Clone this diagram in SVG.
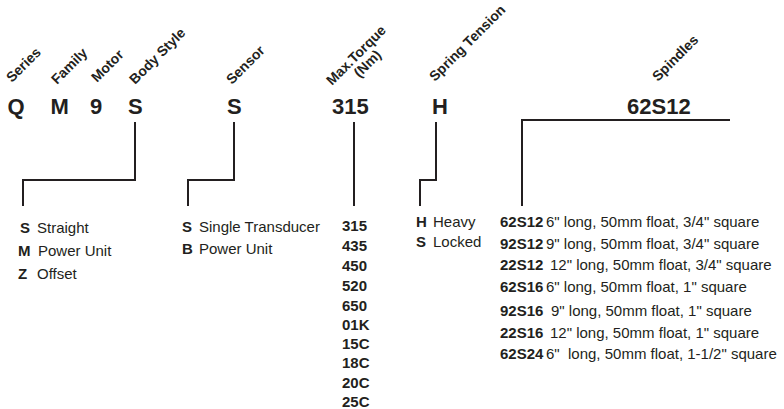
<svg xmlns="http://www.w3.org/2000/svg" width="784" height="409" viewBox="0 0 784 409">
<style>
text{font-family:"Liberation Sans",Arial,sans-serif;fill:#231f20}
.code{font-size:22px;font-weight:bold}
.lbl{font-size:14px;font-weight:bold}
.k{font-size:15px;font-weight:bold}
.d{font-size:15px}
.ln{fill:none;stroke:#231f20;stroke-width:2}
</style>
<rect width="784" height="409" fill="#ffffff"/>
<g id="connectors">
<polyline class="ln" points="135,122 135,180 23,180 23,206"/>
<polyline class="ln" points="234,122 234,180 188,180 188,206"/>
<polyline class="ln" points="354,122 354,206"/>
<polyline class="ln" points="436,122 436,180 420,180 420,206"/>
<polyline class="ln" points="730,120 522,120 522,206"/>
</g>
<g id="series">
<text class="lbl" transform="translate(12,83) rotate(-45)">Series</text>
<text class="code" x="7.5" y="114">Q</text>
</g>
<g id="family">
<text class="lbl" transform="translate(57,85) rotate(-45)">Family</text>
<text class="code" x="50.5" y="114">M</text>
</g>
<g id="motor">
<text class="lbl" transform="translate(97,83) rotate(-45)">Motor</text>
<text class="code" x="90" y="114">9</text>
</g>
<g id="bodystyle">
<text class="lbl" transform="translate(135,85) rotate(-45)">Body Style</text>
<text class="code" x="128" y="114">S</text>
<text class="k" x="20" y="233">S</text><text class="d" x="37" y="233">Straight</text>
<text class="k" x="18" y="256">M</text><text class="d" x="38" y="256">Power Unit</text>
<text class="k" x="18" y="279">Z</text><text class="d" x="37" y="279">Offset</text>
</g>
<g id="sensor">
<text class="lbl" transform="translate(232,85) rotate(-45)">Sensor</text>
<text class="code" x="227" y="114">S</text>
<text class="k" x="182" y="232">S</text><text class="d" x="199" y="232">Single Transducer</text>
<text class="k" x="182" y="254">B</text><text class="d" x="199" y="254">Power Unit</text>
</g>
<g id="torque">
<text class="lbl" transform="translate(332,86) rotate(-45)">Max.Torque<tspan x="25" dy="14">(Nm)</tspan></text>
<text class="code" x="332" y="114">315</text>
<text class="k" x="342" y="231">315</text>
<text class="k" x="342" y="251">435</text>
<text class="k" x="342" y="271">450</text>
<text class="k" x="342" y="291">520</text>
<text class="k" x="342" y="311">650</text>
<text class="k" x="342" y="330">01K</text>
<text class="k" x="342" y="349">15C</text>
<text class="k" x="342" y="368">18C</text>
<text class="k" x="342" y="388">20C</text>
<text class="k" x="342" y="407">25C</text>
</g>
<g id="spring">
<text class="lbl" transform="translate(435,82) rotate(-45)">Spring Tension</text>
<text class="code" x="432" y="114">H</text>
<text class="k" x="416" y="227">H</text><text class="d" x="433" y="227">Heavy</text>
<text class="k" x="416" y="247">S</text><text class="d" x="433" y="247">Locked</text>
</g>
<g id="spindles">
<text class="lbl" transform="translate(658,82) rotate(-45)">Spindles</text>
<text class="code" x="627" y="114">62S12</text>
<text class="k" x="500" y="227">62S12</text><text class="d" x="546" y="227">6" long, 50mm float, 3/4" square</text>
<text class="k" x="500" y="249">92S12</text><text class="d" x="546" y="249">9" long, 50mm float, 3/4" square</text>
<text class="k" x="500" y="270">22S12</text><text class="d" x="550" y="270">12" long, 50mm float, 3/4" square</text>
<text class="k" x="500" y="292">62S16</text><text class="d" x="546" y="292">6" long, 50mm float, 1" square</text>
<text class="k" x="500" y="316">92S16</text><text class="d" x="551" y="316">9" long, 50mm float, 1" square</text>
<text class="k" x="500" y="338">22S16</text><text class="d" x="550" y="338">12" long, 50mm float, 1" square</text>
<text class="k" x="500" y="359">62S24</text><text class="d" x="546" y="359" xml:space="preserve">6"  long, 50mm float, 1-1/2" square</text>
</g>
</svg>
